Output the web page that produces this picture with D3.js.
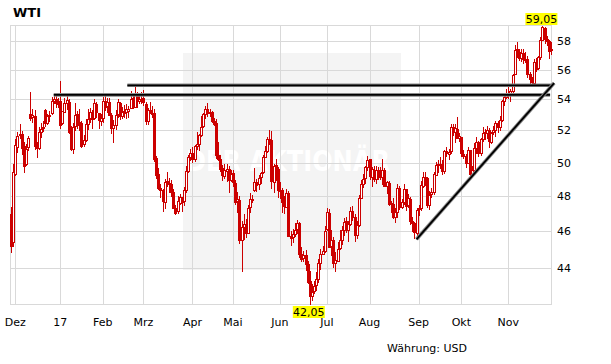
<!DOCTYPE html>
<html>
<head>
<meta charset="utf-8">
<script src="https://cdn.jsdelivr.net/npm/d3@7"></script>
<style>
  body { margin: 0; background: #fff; }
  svg { display: block; font-family: "DejaVu Sans", Verdana, sans-serif; }
</style>
</head>
<body>
<div id="chart"></div>
<script>
// daily bars, one array per month: [day, open, high, low, close]
var nov16 = [[29,47.00,47.40,44.82,45.23],[30,45.38,49.93,45.11,49.44]];
var dec16 = [[1,49.29,51.49,49.22,51.06],[2,51.00,51.90,50.62,51.68],[5,51.76,52.42,51.45,51.79],[6,51.79,51.97,50.45,50.93],[7,51.01,51.29,49.37,49.77],[8,49.90,51.13,49.83,50.84],[9,50.91,51.67,50.71,51.50],[12,53.08,54.51,52.63,52.83],[13,52.85,53.39,52.50,52.98],[14,52.95,53.32,50.80,51.04],[15,51.00,51.27,50.27,50.90],[16,50.90,52.22,50.80,51.90],[19,51.95,52.45,51.55,52.12],[20,52.15,52.60,51.90,52.23],[21,53.30,53.35,52.20,52.49],[22,52.50,53.06,52.35,52.95],[23,52.95,53.27,52.53,53.02],[27,53.15,54.13,53.00,53.90],[28,53.95,54.37,53.70,54.06],[29,54.05,54.27,53.41,53.77],[30,53.80,54.09,53.42,53.72]];
var jan17 = [[3,53.87,55.24,52.11,52.33],[4,52.49,53.26,52.35,53.26],[5,53.20,54.11,53.09,53.76],[6,53.80,54.30,53.33,53.99],[9,53.86,54.02,51.76,51.96],[10,51.90,52.29,50.71,50.82],[11,50.86,52.50,50.55,52.25],[12,52.30,53.78,51.98,53.01],[13,53.07,53.22,52.11,52.37],[17,52.55,53.35,51.96,52.48],[18,52.50,52.60,50.91,51.08],[19,51.15,51.70,50.97,51.37],[20,51.40,52.70,51.28,52.42],[23,52.40,53.37,52.05,52.75],[24,52.80,53.43,52.48,53.18],[25,53.15,53.30,52.08,52.75],[26,52.80,54.00,52.65,53.78],[27,53.70,53.83,52.82,53.17],[30,53.10,53.15,52.07,52.63],[31,52.60,53.05,52.30,52.81]];
var feb17 = [[1,52.75,54.13,52.48,53.88],[2,53.90,54.33,53.23,53.54],[3,53.60,54.07,53.15,53.83],[6,53.85,54.10,52.91,53.01],[7,52.99,53.15,51.76,52.17],[8,52.15,52.64,51.22,52.34],[9,52.38,53.28,52.05,53.00],[10,53.05,54.04,52.82,53.86],[13,53.80,53.86,52.68,52.93],[14,52.95,53.48,52.73,53.20],[15,53.25,53.65,52.81,53.11],[16,53.15,53.71,52.75,53.36],[17,53.30,53.60,52.78,53.40],[21,53.50,54.59,53.35,54.06],[22,54.10,54.21,53.37,53.59],[23,53.55,54.94,53.48,54.45],[24,54.40,54.50,53.41,53.99],[27,53.95,54.34,53.71,54.05],[28,54.05,54.50,53.69,54.01]];
var mar17 = [[1,54.10,54.63,53.54,53.83],[2,53.70,53.84,52.33,52.61],[3,52.65,53.42,52.33,53.33],[6,53.30,53.85,53.08,53.20],[7,53.15,53.57,52.78,53.14],[8,53.15,53.37,50.05,50.28],[9,50.30,50.40,49.02,49.28],[10,49.30,49.70,48.35,48.49],[13,48.50,48.75,47.90,48.40],[14,48.35,48.40,47.09,47.72],[15,47.70,49.00,47.25,48.86],[16,48.90,49.41,48.55,48.75],[17,48.75,49.05,48.20,48.78],[20,48.70,48.95,47.95,48.22],[21,48.25,48.45,47.31,47.34],[22,47.30,47.50,46.94,47.04],[23,47.10,48.00,46.98,47.70],[24,47.65,48.14,47.51,47.97],[27,47.70,47.95,47.08,47.73],[28,47.75,48.52,47.43,48.37],[29,48.40,49.80,48.20,49.51],[30,49.50,50.45,49.39,50.35],[31,50.35,50.85,50.08,50.60]];
var apr17 = [[3,50.60,50.98,49.97,50.24],[4,50.25,51.09,50.05,51.03],[5,51.00,51.93,50.80,51.15],[6,51.15,51.79,50.71,51.70],[7,51.75,52.94,51.57,52.24],[10,52.30,53.14,52.15,53.08],[11,53.10,53.56,52.71,53.40],[12,53.40,53.76,52.87,53.11],[13,53.10,53.37,52.86,53.18],[17,53.20,53.27,52.47,52.65],[18,52.60,52.82,52.28,52.41],[19,52.45,52.73,50.20,50.44],[20,50.50,51.29,50.12,50.27],[21,50.25,50.48,49.45,49.62],[24,49.65,49.85,48.87,49.23],[25,49.20,49.95,49.03,49.56],[26,49.50,49.91,48.82,49.62],[27,49.60,49.80,48.18,48.97],[28,49.00,49.54,48.82,49.33]];
var may17 = [[1,49.35,49.55,48.56,48.84],[2,48.80,48.93,47.51,47.66],[3,47.70,48.22,47.03,47.82],[4,47.80,47.99,45.30,45.52],[5,45.50,46.58,43.76,46.22],[8,46.25,46.98,45.50,46.43],[9,46.40,46.70,45.61,45.88],[10,45.90,47.51,45.83,47.33],[11,47.35,48.19,47.02,47.83],[12,47.80,48.07,47.59,47.84],[15,48.40,49.66,48.25,48.85],[16,48.85,49.03,48.22,48.66],[17,48.70,49.27,48.35,49.07],[18,49.10,49.45,48.70,49.35],[19,49.40,50.50,49.30,50.33],[22,50.35,51.02,50.28,50.73],[23,50.75,51.59,50.59,51.47],[24,51.45,52.00,51.12,51.36],[25,51.40,51.95,48.45,48.90],[26,48.85,49.95,48.18,49.80],[30,49.85,50.22,48.90,49.66],[31,49.60,49.71,47.89,48.32]];
var jun17 = [[1,48.30,48.86,47.85,48.36],[2,48.35,48.47,47.02,47.66],[5,47.70,48.00,46.95,47.40],[6,47.40,48.42,47.30,48.19],[7,48.20,48.30,45.65,45.72],[8,45.75,46.02,45.20,45.64],[9,45.65,46.10,45.33,45.83],[12,45.85,46.48,45.69,46.08],[13,46.10,46.65,45.83,46.46],[14,46.45,46.54,44.51,44.73],[15,44.75,45.12,44.32,44.46],[16,44.50,44.91,44.31,44.68],[19,44.70,44.98,43.81,44.20],[20,44.20,44.34,43.13,43.23],[21,43.30,43.85,42.05,42.53],[22,42.55,43.16,42.27,42.74],[23,42.75,43.28,42.63,43.01],[26,43.05,43.78,42.75,43.38],[27,43.40,44.48,43.20,44.24],[28,44.25,45.03,43.89,44.74],[29,44.75,45.20,44.67,44.93],[30,44.95,46.29,44.79,46.04]];
var jul17 = [[3,46.10,47.32,46.04,47.07],[5,47.05,47.24,45.10,45.13],[6,45.20,46.08,44.61,45.52],[7,45.50,45.70,44.00,44.23],[10,44.25,44.84,43.78,44.40],[11,44.40,45.39,44.32,45.04],[12,45.05,46.05,44.98,45.49],[13,45.50,46.28,45.22,46.08],[14,46.10,46.74,45.72,46.54],[17,46.55,46.79,45.90,46.02],[18,46.05,46.60,45.41,46.40],[19,46.40,47.37,46.27,47.12],[20,47.15,47.46,46.55,46.79],[21,46.80,46.97,45.40,45.77],[24,45.80,46.55,45.55,46.34],[25,46.35,48.08,46.25,47.89],[26,47.90,48.97,47.85,48.75],[27,48.75,49.32,48.49,49.04],[28,49.05,49.81,48.71,49.71],[31,49.75,50.43,49.47,50.17]];
var aug17 = [[1,50.20,50.22,48.95,49.16],[2,49.10,49.72,48.54,49.59],[3,49.55,49.79,48.86,49.03],[4,49.05,49.80,48.73,49.58],[7,49.55,49.71,48.95,49.39],[8,49.40,49.73,48.94,49.17],[9,49.15,50.22,48.66,49.56],[10,49.55,49.67,48.52,48.59],[11,48.60,48.91,48.12,48.82],[14,48.80,48.88,47.46,47.59],[15,47.60,47.72,47.02,47.55],[16,47.55,47.92,46.68,46.78],[17,46.80,47.32,46.48,47.09],[18,47.10,48.73,46.72,48.51],[21,48.50,48.62,47.20,47.37],[22,47.35,47.85,47.25,47.64],[23,47.65,48.74,47.48,48.41],[24,48.40,48.43,47.16,47.43],[25,47.45,48.13,47.33,47.87],[28,47.85,47.94,46.34,46.57],[29,46.55,46.82,45.94,46.44],[30,46.45,46.50,45.58,45.96],[31,45.95,47.32,45.74,47.23]];
var sep17 = [[1,47.25,47.49,46.87,47.29],[5,47.30,48.90,47.13,48.66],[6,48.65,49.42,48.46,49.16],[7,49.15,49.42,48.63,49.09],[8,49.05,49.12,47.34,47.48],[11,47.50,48.28,47.20,48.07],[12,48.10,48.51,47.90,48.23],[13,48.25,49.42,48.06,49.30],[14,49.30,50.03,49.24,49.89],[15,49.90,50.16,49.37,49.89],[18,49.90,50.37,49.63,49.91],[19,49.90,50.17,49.24,49.48],[20,49.50,50.80,49.30,50.69],[21,50.70,50.96,50.35,50.55],[22,50.55,50.84,50.17,50.66],[25,50.70,52.40,50.56,52.22],[26,52.20,52.43,51.64,51.88],[27,51.90,52.40,51.24,52.14],[28,52.10,52.86,51.51,51.56],[29,51.55,51.82,51.25,51.67]];
var oct17 = [[2,51.60,51.62,50.36,50.58],[3,50.55,50.79,50.20,50.42],[4,50.40,50.52,49.67,49.98],[5,50.00,50.95,49.96,50.79],[6,50.75,50.79,49.16,49.29],[9,49.30,49.77,49.10,49.58],[10,49.60,51.21,49.49,50.92],[11,50.90,51.59,50.55,51.30],[12,51.30,51.36,50.37,50.60],[13,50.60,51.52,50.43,51.45],[16,51.50,52.22,51.30,51.87],[17,51.90,52.08,51.42,51.88],[18,51.85,52.26,51.46,52.04],[19,52.00,52.13,50.91,51.29],[20,51.30,51.92,51.15,51.84],[23,51.85,52.29,51.73,52.00],[24,52.00,52.59,51.61,52.47],[25,52.45,52.63,51.81,52.18],[26,52.20,52.93,51.98,52.64],[27,52.65,53.97,52.56,53.90],[30,53.90,54.20,53.56,54.15],[31,54.15,54.67,54.00,54.38]];
var nov17 = [[1,54.40,54.86,54.05,54.30],[2,54.30,54.69,53.86,54.54],[3,54.55,55.71,54.44,55.64],[6,55.70,57.69,55.62,57.35],[7,57.40,57.92,56.81,57.20],[8,57.20,57.43,56.56,56.81],[9,56.80,57.40,56.51,57.17],[10,57.15,57.42,56.41,56.74],[13,56.75,57.20,56.46,56.76],[14,56.75,56.90,55.42,55.70],[15,55.70,55.86,54.81,55.33],[16,55.30,55.53,54.85,55.14],[17,55.15,56.75,55.09,56.55],[20,56.55,56.77,55.85,56.09],[21,56.10,56.94,55.94,56.83],[22,56.85,58.27,56.65,58.02],[24,58.00,59.05,57.95,58.95],[27,58.90,59.00,57.75,58.11],[28,58.10,58.35,57.60,57.99],[29,58.00,58.05,56.75,57.30],[30,57.30,57.94,56.97,57.40]];

var months = [nov16, dec16, jan17, feb17, mar17, apr17, may17, jun17, jul17, aug17, sep17, oct17, nov17];
// label for each month after the first (partial) one
var monthLabels = ["Dez", "17", "Feb", "Mrz", "Apr", "Mai", "Jun", "Jul", "Aug", "Sep", "Okt", "Nov"];
var yTicks = [44, 46, 48, 50, 52, 54, 56, 58];

// drawn lines: [bar index, price]
var resistLow = [[20, 54.30], [252.6, 54.30]];
var resistHigh = [[54.5, 54.94], [253.4, 54.94]];
var trendLine = [[190, 45.55], [254.5, 55.09]];

var WIDTH = 611, HEIGHT = 364;
var LEFT = 10, RIGHT = 552, TOP = 25, BOTTOM = 305;
var RED = "#cc0000";
var GRID = "#d9d9d9";

var bars = [];
var monthStarts = [];
months.forEach(function(m, mi) {
    if (mi > 0) monthStarts.push(bars.length);
    m.forEach(function(r) {
        bars.push({o: r[1], h: r[2], l: r[3], c: r[4]});
    });
});

var x = d3.scaleLinear().domain([-0.5, bars.length - 0.5]).range([LEFT, RIGHT]);
var y = d3.scaleLog()
    .domain([d3.min(bars, d => d.l), d3.max(bars, d => d.h)])
    .range([BOTTOM, TOP + 1]);

var svg = d3.select("#chart").append("svg")
    .attr("width", WIDTH).attr("height", HEIGHT);

// watermark
svg.append("rect")
    .attr("x", 183).attr("y", 53).attr("width", 218).attr("height", 217)
    .attr("fill", "#f4f4f4");
svg.append("text")
    .attr("x", 186).attr("y", 171)
    .attr("textLength", 204).attr("lengthAdjust", "spacingAndGlyphs")
    .attr("font-size", 28).attr("font-weight", "bold")
    .attr("fill", "#ffffff")
    .text("DER AKTIONÄR");

// grid
var grid = svg.append("g").attr("shape-rendering", "crispEdges");
grid.selectAll("line.h").data(yTicks).enter().append("line")
    .attr("x1", LEFT).attr("x2", RIGHT)
    .attr("y1", d => Math.round(y(d)) + 0.5).attr("y2", d => Math.round(y(d)) + 0.5)
    .attr("stroke", GRID);
grid.selectAll("line.v").data(monthStarts).enter().append("line")
    .attr("x1", d => Math.round(x(d)) + 0.5).attr("x2", d => Math.round(x(d)) + 0.5)
    .attr("y1", TOP).attr("y2", BOTTOM)
    .attr("stroke", GRID);
grid.append("rect")
    .attr("x", LEFT + 0.5).attr("y", TOP + 0.5)
    .attr("width", RIGHT - LEFT - 1).attr("height", BOTTOM - TOP - 1)
    .attr("fill", "none").attr("stroke", GRID);

// candles
var candles = svg.append("g").attr("shape-rendering", "crispEdges");
var cg = candles.selectAll("g").data(bars).enter().append("g");
cg.append("line")
    .attr("x1", (d, i) => Math.round(x(i)) + 0.5)
    .attr("x2", (d, i) => Math.round(x(i)) + 0.5)
    .attr("y1", d => y(d.h)).attr("y2", d => y(d.l))
    .attr("stroke", RED);
cg.append("rect")
    .attr("x", (d, i) => Math.round(x(i)) - 0.5)
    .attr("y", d => Math.round(y(Math.max(d.o, d.c))) + 0.5)
    .attr("width", 2)
    .attr("height", d => Math.max(1, Math.round(Math.abs(y(d.o) - y(d.c)))))
    .attr("fill", d => d.c < d.o ? RED : "#fff")
    .attr("stroke", RED);

// support / resistance lines
var line = d3.line().x(d => x(d[0])).y(d => y(d[1]));
[resistLow, resistHigh, trendLine].forEach(function(pts) {
    svg.append("path").attr("d", line(pts))
        .attr("stroke", "#8a8a8a").attr("stroke-width", 3.6).attr("fill", "none");
    svg.append("path").attr("d", line(pts))
        .attr("stroke", "#000").attr("stroke-width", 1.8).attr("fill", "none");
});

// axis labels
svg.selectAll("text.y").data(yTicks).enter().append("text")
    .attr("x", 557).attr("y", d => y(d)).attr("dy", "0.36em")
    .attr("font-size", 11).attr("fill", "#000")
    .text(d => d);
svg.selectAll("text.x").data(monthStarts).enter().append("text")
    .attr("x", d => x(d)).attr("y", 326)
    .attr("text-anchor", "middle").attr("font-size", 11).attr("fill", "#000")
    .text((d, i) => monthLabels[i]);

// high / low markers
var fmt = v => d3.format(".2f")(v).replace(".", ",");
var iMax = d3.maxIndex(bars, d => d.h), iMin = d3.minIndex(bars, d => d.l);
[[iMax, bars[iMax].h, 13], [iMin, bars[iMin].l, 306]].forEach(function(m) {
    var cx = x(m[0]) - 1;
    svg.append("rect")
        .attr("x", cx - 16).attr("y", m[2]).attr("width", 32).attr("height", 12)
        .attr("fill", "#ffff00");
    svg.append("text")
        .attr("x", cx).attr("y", m[2] + 10)
        .attr("text-anchor", "middle").attr("font-size", 11).attr("fill", "#000")
        .text(fmt(m[1]));
});

svg.append("text")
    .attr("x", 13).attr("y", 17)
    .attr("font-size", 13).attr("font-weight", "bold")
    .text("WTI");
svg.append("text")
    .attr("x", 387).attr("y", 352)
    .attr("font-size", 11)
    .text("Währung: USD");
</script>
</body>
</html>
